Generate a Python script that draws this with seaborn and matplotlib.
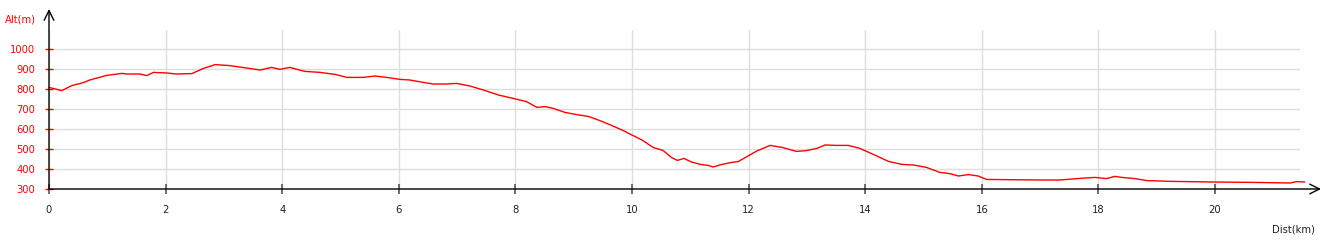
import matplotlib
matplotlib.use("Agg")
import matplotlib.pyplot as plt
import seaborn as sns
import pandas as pd

dist_km = [0, 0.22, 0.39, 0.59, 0.70, 0.99, 1.25, 1.33, 1.56, 1.68, 1.79, 2.02, 2.19, 2.45, 2.65,
           2.85, 3.10, 3.39, 3.62, 3.82, 3.96, 4.13, 4.39, 4.65, 4.91, 5.11, 5.39, 5.59, 5.79,
           6.02, 6.19, 6.42, 6.59, 6.82, 6.99, 7.22, 7.45, 7.71, 7.96, 8.19, 8.37, 8.51, 8.65,
           8.85, 9.05, 9.25, 9.45, 9.65, 9.85, 10.02, 10.19, 10.36, 10.53, 10.68, 10.78, 10.89,
           11.02, 11.19, 11.31, 11.39, 11.54, 11.71, 11.82, 11.99, 12.14, 12.37, 12.59, 12.82,
           12.99, 13.17, 13.31, 13.51, 13.71, 13.91, 14.14, 14.40, 14.63, 14.83, 15.05, 15.28,
           15.45, 15.60, 15.77, 15.94, 16.08, 16.31, 16.99, 17.34, 17.68, 17.94, 18.14, 18.28,
           18.43, 18.63, 18.83, 19.28, 19.97, 20.66, 21.29, 21.40, 21.54]
alt_m = [808, 792, 817, 832, 845, 868, 878, 875, 875, 867, 883, 880, 875, 877, 903,
         922, 917, 905, 895, 908, 898, 908, 888, 883, 873, 858, 858, 865, 858,
         848, 845, 833, 825, 825, 828, 815, 795, 770, 753, 737, 708, 712, 703,
         683, 672, 663, 642, 618, 592, 567, 542, 508, 493, 457, 443, 453,
         435, 422, 418, 410, 423, 433, 437, 465, 490, 518, 507, 488,
         492, 503, 520, 518, 518, 503, 473, 438, 423, 420, 408, 383,
         377, 365, 372, 365, 348, 347, 345, 345, 353, 358, 352, 363,
         357, 352, 342, 338, 335, 333, 330, 337, 335]

x_ticks = [0, 2, 4, 6, 8, 10, 12, 14, 16, 18, 20]
y_ticks = [300, 400, 500, 600, 700, 800, 900, 1000]
x_label = "Dist(km)"
y_label = "Alt(m)"

sns.set_style("white")
plt.rcParams['font.family'] = ['DejaVu Sans']

W, H = 1326, 240
fig = plt.figure(figsize=(W / 100, H / 100), dpi=100)
L, R, T, B = 49, 1300, 30, 189
ax = fig.add_axes([L / W, (H - B) / H, (R - L) / W, (B - T) / H])

df = pd.DataFrame({"dist": dist_km, "alt": alt_m})
sns.lineplot(data=df, x="dist", y="alt", ax=ax, color="#ff0000", lw=1.0)
for ln in ax.lines:
    ln.set_clip_on(False)

ax.set_xlim(0, (R - L) / 58.3)
ax.set_ylim(300, 300 + (B - T) * 5)
ax.set_xticks(x_ticks)
ax.set_yticks(y_ticks)
ax.set_xlabel("")
ax.set_ylabel("")
for s in ax.spines.values():
    s.set_visible(False)

ax.grid(True, color="#dddddd", lw=1.0)
ax.set_axisbelow(True)
ax.tick_params(axis="y", direction="inout", length=6, width=1, color="#ff0000",
               labelcolor="#ff0000", labelsize=7.2, pad=7, left=True)
ax.tick_params(axis="x", direction="inout", length=7, width=1.2, color="#555555",
               labelcolor="#222222", labelsize=7.2, pad=8, bottom=True)

# axes with arrowheads
ap = dict(arrowstyle="->,head_length=0.7,head_width=0.35", lw=1, color="black",
          shrinkA=0, shrinkB=0)
ax.annotate("", xy=(49, H - 9), xytext=(49, H - 189), xycoords="figure pixels",
            textcoords="figure pixels", arrowprops=ap)
ax.annotate("", xy=(1321, H - 189), xytext=(49, H - 189), xycoords="figure pixels",
            textcoords="figure pixels", arrowprops=ap)

fig.text(5 / W, 1 - 19.5 / H, y_label, color="#ff0000", fontsize=7.2, ha="left", va="center")
fig.text(1315 / W, 1 - 229 / H, x_label, color="#222222", fontsize=7.2, ha="right", va="center")

fig.savefig("out.png", dpi=100, facecolor="white")
